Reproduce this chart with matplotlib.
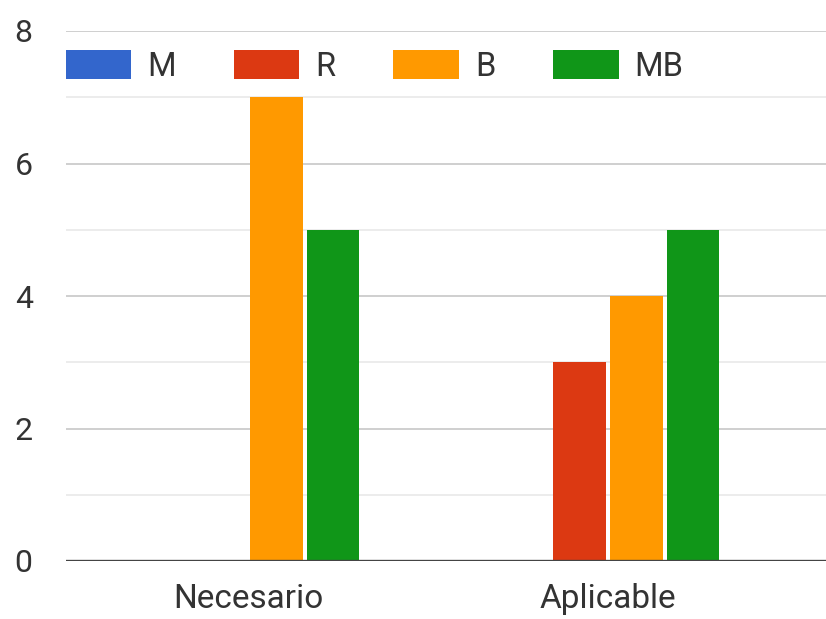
import matplotlib
matplotlib.use("Agg")
import matplotlib.pyplot as plt
import numpy as np

categories = ["Necesario", "Aplicable"]
series_names = ["M", "R", "B", "MB"]
values_M = [0, 0]
values_R = [0, 3]
values_B = [7, 4]
values_MB = [5, 5]
colors = ["#3366cc", "#dc3912", "#ff9900", "#109618"]

plt.rcParams['font.family'] = ['Roboto', 'DejaVu Sans']

fig = plt.figure(figsize=(8.26, 6.19), dpi=100)
ax = fig.add_axes([66/826, 1-561/619, 1-66/826, (561-31)/619])

x = np.arange(len(categories))
step = 0.158
width = 0.145
all_vals = [values_M, values_R, values_B, values_MB]
for i, (name, vals, c) in enumerate(zip(series_names, all_vals, colors)):
    ax.bar(x + (i - 1.5) * step, vals, width=width, color=c, label=name, zorder=3)

ax.set_ylim(0, 8)
ax.set_xlim((66-248)/360, (826-248)/360)
ax.set_yticks([0, 2, 4, 6, 8])
ax.set_yticks([1, 3, 5, 7], minor=True)
ax.grid(axis='y', which='major', color='#cccccc', linewidth=1.3, zorder=0)
ax.grid(axis='y', which='minor', color='#ebebeb', linewidth=1.3, zorder=0)
ax.axhline(0, color='#444444', linewidth=2.4, zorder=4)
for s in ax.spines.values():
    s.set_visible(False)
ax.set_xticks(x)
ax.set_xticklabels(categories)
ax.tick_params(axis='both', which='both', length=0, colors='#333333')
ax.tick_params(axis='y', labelsize=23, pad=24)
ax.tick_params(axis='x', labelsize=24, pad=16)

leg = ax.legend(ncol=4, loc='center left', bbox_to_anchor=(0.0, 7.47/8), frameon=False,
                fontsize=23.5, handlelength=2.0, handleheight=1.0, handletextpad=0.49,
                columnspacing=1.78, borderaxespad=0, borderpad=0)
for t in leg.get_texts():
    t.set_color('#333333')

fig.savefig("out.png", dpi=100)
